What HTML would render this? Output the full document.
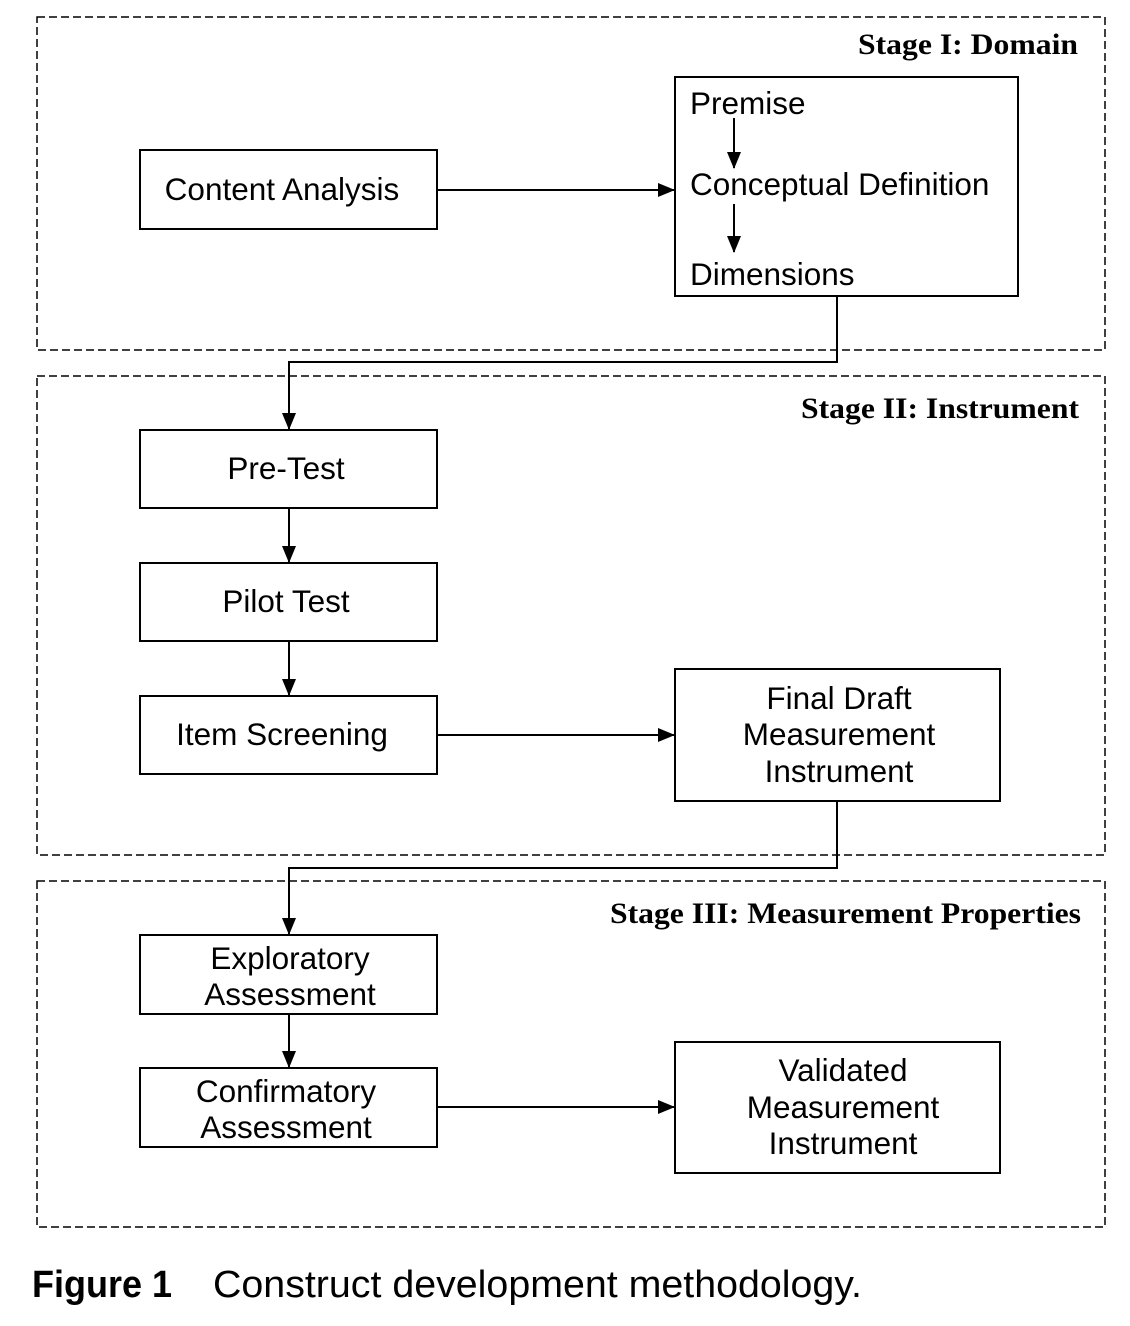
<!DOCTYPE html>
<html><head><meta charset="utf-8"><style>
html,body{margin:0;padding:0;background:#fff;}
svg{display:block;}
.b{font-family:"Liberation Sans",Arial,sans-serif;font-size:31.5px;fill:#000;}
.s{font-family:"Liberation Serif",serif;font-size:30px;font-weight:bold;fill:#000;}
.c{font-family:"Liberation Sans",sans-serif;font-size:38px;fill:#000;}
</style></head><body>
<svg width="1130" height="1326" viewBox="0 0 1130 1326" xmlns="http://www.w3.org/2000/svg">
<defs><marker id="a" markerWidth="18" markerHeight="14" refX="16" refY="7" orient="auto" markerUnits="userSpaceOnUse"><path d="M0,0 L17,7 L0,14 z" fill="#000"/></marker></defs>
<g fill="none" stroke="#000" stroke-width="1.5" stroke-dasharray="8,4">
<rect x="37" y="17" width="1068" height="333"/>
<rect x="37" y="376" width="1068" height="479"/>
<rect x="37" y="881" width="1068" height="346"/>
</g>
<text class="s" x="1078" y="54" text-anchor="end" textLength="220" lengthAdjust="spacingAndGlyphs">Stage I: Domain</text>
<text class="s" x="1079" y="418" text-anchor="end" textLength="278" lengthAdjust="spacingAndGlyphs">Stage II: Instrument</text>
<text class="s" x="1081" y="923" text-anchor="end" textLength="471" lengthAdjust="spacingAndGlyphs">Stage III: Measurement Properties</text>
<g fill="#fff" stroke="#000" stroke-width="2">
<rect x="140" y="150" width="297" height="79"/>
<rect x="675" y="77" width="343" height="219"/>
<rect x="140" y="430" width="297" height="78"/>
<rect x="140" y="563" width="297" height="78"/>
<rect x="140" y="696" width="297" height="78"/>
<rect x="675" y="669" width="325" height="132"/>
<rect x="140" y="935" width="297" height="79"/>
<rect x="140" y="1068" width="297" height="79"/>
<rect x="675" y="1042" width="325" height="131"/>
</g>
<g fill="none" stroke="#000" stroke-width="2" marker-end="url(#a)">
<line x1="437" y1="190" x2="674" y2="190"/>
<line x1="734" y1="118" x2="734" y2="168"/>
<line x1="734" y1="204" x2="734" y2="252"/>
<polyline points="837,296 837,362 289,362 289,429"/>
<line x1="289" y1="508" x2="289" y2="562"/>
<line x1="289" y1="641" x2="289" y2="695"/>
<line x1="437" y1="735" x2="674" y2="735"/>
<polyline points="837,801 837,868 289,868 289,934"/>
<line x1="289" y1="1014" x2="289" y2="1067"/>
<line x1="437" y1="1107" x2="674" y2="1107"/>
</g>
<text class="b" x="282" y="200" text-anchor="middle">Content Analysis</text>
<text class="b" x="690" y="114">Premise</text>
<text class="b" x="690" y="195">Conceptual Definition</text>
<text class="b" x="690" y="285">Dimensions</text>
<text class="b" x="286" y="479" text-anchor="middle">Pre-Test</text>
<text class="b" x="286" y="612" text-anchor="middle">Pilot Test</text>
<text class="b" x="282" y="745" text-anchor="middle">Item Screening</text>
<text class="b" x="839" y="709" text-anchor="middle">Final Draft</text>
<text class="b" x="839" y="745" text-anchor="middle">Measurement</text>
<text class="b" x="839" y="782" text-anchor="middle">Instrument</text>
<text class="b" x="290" y="969" text-anchor="middle">Exploratory</text>
<text class="b" x="290" y="1005" text-anchor="middle">Assessment</text>
<text class="b" x="286" y="1102" text-anchor="middle">Confirmatory</text>
<text class="b" x="286" y="1138" text-anchor="middle">Assessment</text>
<text class="b" x="843" y="1081" text-anchor="middle">Validated</text>
<text class="b" x="843" y="1118" text-anchor="middle">Measurement</text>
<text class="b" x="843" y="1154" text-anchor="middle">Instrument</text>
<text class="c" x="32" y="1297" font-weight="bold" textLength="140" lengthAdjust="spacingAndGlyphs">Figure 1</text>
<text class="c" x="213" y="1297" textLength="649" lengthAdjust="spacingAndGlyphs">Construct development methodology.</text>
</svg>
</body></html>
